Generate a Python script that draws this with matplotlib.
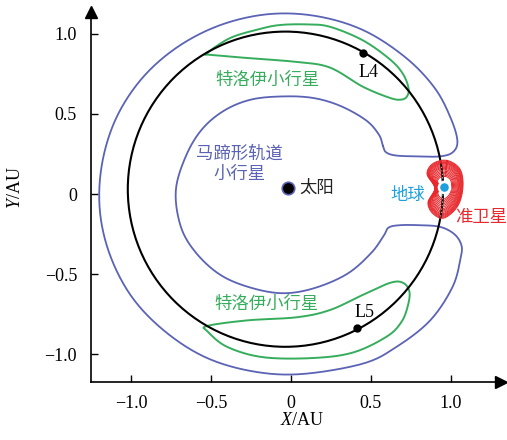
import numpy as np
import matplotlib
matplotlib.use("Agg")
import matplotlib.pyplot as plt

plt.rcParams["font.family"] = ["Liberation Serif", "Noto Sans CJK SC"]
plt.rcParams["mathtext.fontset"] = "custom"
plt.rcParams["mathtext.rm"] = "Liberation Serif"
plt.rcParams["mathtext.it"] = "Liberation Serif:italic"

# ── Data ─────────────────────────────────────────────────────────────────────
sun_xy = (-0.02, 0.036)
earth_xy = (0.958, 0.046)
orbit_center = (-0.035, 0.03)
orbit_radius = 0.985
L4_xy = (0.45, 0.88)
L5_xy = (0.41, -0.84)

# horseshoe outline (closed): inner edge, lower end, outer edge, upper end
horseshoe_x = [0.575, 0.55, 0.47, 0.31, 0.14, -0.05, -0.25, -0.42, -0.56, -0.66,
               -0.72, -0.69, -0.60, -0.45, -0.27, -0.06, 0.14, 0.35, 0.50, 0.58,
               0.61, 0.68, 0.80, 0.93, 1.02, 1.065, 1.06, 1.01, 0.87, 0.66,
               0.45, 0.07, -0.23, -0.525, -0.78, -0.99, -1.13, -1.195, -1.18, -1.09,
               -0.925, -0.70, -0.43, -0.13, 0.17, 0.46, 0.72,
               0.90, 1.00, 1.04, 1.01, 0.93, 0.80, 0.66, 0.595]
horseshoe_y = [0.30, 0.37, 0.46, 0.55, 0.60, 0.61, 0.59, 0.52, 0.40, 0.23,
               0.02, -0.20, -0.36, -0.50, -0.58, -0.62, -0.59, -0.50, -0.37, -0.26,
               -0.21, -0.195, -0.195, -0.205, -0.25, -0.32, -0.40, -0.58, -0.79, -0.955,
               -1.06, -1.125, -1.11, -1.025, -0.865, -0.65, -0.385, -0.10, 0.195, 0.48,
               0.73, 0.925, 1.06, 1.125, 1.11, 1.02, 0.85,
               0.66, 0.47, 0.33, 0.26, 0.235, 0.235, 0.24, 0.26]

# tadpole outlines (closed)
trojan_up_x = [-0.525, -0.38, -0.2, -0.07, 0.1, 0.244, 0.45, 0.62, 0.70, 0.735,
               0.725, 0.69, 0.62, 0.45, 0.244, 0.04, -0.275, -0.5]
trojan_up_y = [0.88, 0.975, 1.03, 1.056, 1.06, 1.045, 0.96, 0.84, 0.75, 0.66,
               0.61, 0.59, 0.60, 0.67, 0.79, 0.825, 0.85, 0.87]
trojan_lo_x = [-0.525, -0.275, 0.04, 0.244, 0.45, 0.62, 0.70, 0.74, 0.73, 0.69,
               0.6, 0.39, 0.14, -0.175, -0.4, -0.52]
trojan_lo_y = [-0.825, -0.79, -0.77, -0.725, -0.63, -0.555, -0.555, -0.61, -0.70, -0.80,
               -0.89, -0.99, -1.025, -1.02, -0.955, -0.86]

# quasi-satellite loop shape (offsets from Earth) and loop sizes
qs_dx = [0.017, 0.098, 0.117, 0.085, 0.0, -0.07, -0.102, -0.06, -0.108, -0.07]
qs_dy = [0.164, 0.11, 0.0, -0.12, -0.196, -0.17, -0.10, -0.01, 0.08, 0.145]
qs_scales = [1.0, 0.97, 0.94, 0.91, 0.88, 0.85, 0.81, 0.77, 0.73, 0.69,
             0.64, 0.59, 0.54, 0.49, 0.44, 0.39]

xticks = [-1.0, -0.5, 0, 0.5, 1.0]
xtick_labels = ["\u22121.0", "\u22120.5", "0", "0.5", "1.0"]
yticks = [-1.0, -0.5, 0, 0.5, 1.0]
ytick_labels = ["\u22121.0", "\u22120.5", "0", "0.5", "1.0"]

BLUE = "#5b63b5"
GREEN = "#36ad5c"
RED = "#e8282c"
EARTH = "#1fa0dc"
CJK = ["Noto Sans CJK SC", "DejaVu Sans"]


def smooth_closed(xs, ys, n=14):
    """Catmull-Rom curve through the read outline points."""
    p = np.column_stack([xs, ys])
    m = len(p)
    t = np.linspace(0, 1, n, endpoint=False)[:, None]
    segs = []
    for i in range(m):
        p0, p1, p2, p3 = p[(i - 1) % m], p[i], p[(i + 1) % m], p[(i + 2) % m]
        segs.append(0.5 * (2 * p1 + (-p0 + p2) * t
                           + (2 * p0 - 5 * p1 + 4 * p2 - p3) * t ** 2
                           + (-p0 + 3 * p1 - 3 * p2 + p3) * t ** 3))
    c = np.vstack(segs)
    c = np.vstack([c, c[:1]])
    return c[:, 0], c[:, 1]


fig = plt.figure(figsize=(5.07, 4.40), dpi=100)
ax = fig.add_axes([91 / 507, 58 / 440, 410 / 507, 370 / 440])
ax.set_xlim(-1.25, 1.3125)
ax.set_ylim(-1.175, 1.1375)

# horseshoe
hx, hy = smooth_closed(horseshoe_x, horseshoe_y)
ax.plot(hx, hy, color=BLUE, lw=1.3, zorder=2)

# tadpoles
for tx, ty in [(trojan_up_x, trojan_up_y), (trojan_lo_x, trojan_lo_y)]:
    sx, sy = smooth_closed(tx, ty)
    ax.plot(sx, sy, color=GREEN, lw=1.4, zorder=3)

# Earth orbit
patch = plt.Circle(orbit_center, orbit_radius, fill=False, color="black", lw=1.5, zorder=4)
ax.add_patch(patch)

# quasi-satellite loops
bx, by = smooth_closed(qs_dx, qs_dy)
for s in qs_scales:
    ax.plot(earth_xy[0] + s * bx, earth_xy[1] + s * by, color=RED, lw=0.7, zorder=5)
ang = np.radians(np.linspace(-10, 9, 40))
ax.plot(orbit_center[0] + orbit_radius * np.cos(ang),
        orbit_center[1] + orbit_radius * np.sin(ang),
        color="black", lw=1.2, zorder=6)
ax.plot(orbit_center[0] + orbit_radius * np.cos(ang),
        orbit_center[1] + orbit_radius * np.sin(ang),
        color="white", lw=0.5, ls=(0, (2, 3)), zorder=6)

# bodies
ax.plot(*earth_xy, "o", ms=8, mfc=EARTH, mec="white", mew=1.8, zorder=7)
ax.plot(*sun_xy, "o", ms=9, mfc="black", mec=BLUE, mew=1.2, zorder=7)
ax.plot(*L4_xy, "o", ms=5, color="black", zorder=7)
ax.plot(*L5_xy, "o", ms=5, color="black", zorder=7)

# labels
txt = dict(fontsize=12.5, family=CJK, fontweight="light")
ax.text(-0.145, 0.71, "特洛伊小行星", color=GREEN, ha="center", va="center", **txt)
ax.text(-0.155, -0.69, "特洛伊小行星", color=GREEN, ha="center", va="center", **txt)
ax.text(-0.32, 0.19, "马蹄形轨道\n小行星", color=BLUE, ha="center", va="center",
        linespacing=1.15, **txt)
ax.text(0.05, 0.036, "太阳", color="#222222", ha="left", va="center", **txt)
ax.text(0.73, -0.005, "地球", color=EARTH, ha="center", va="center", **txt)
ax.text(1.025, -0.145, "准卫星", color=RED, ha="left", va="center", clip_on=False, **txt)
ax.text(0.485, 0.76, "L4", fontsize=13, ha="center", va="center")
ax.text(0.46, -0.74, "L5", fontsize=13, ha="center", va="center")

# axes styling
for side in ["top", "right"]:
    ax.spines[side].set_visible(False)
for side in ["left", "bottom"]:
    ax.spines[side].set_linewidth(1.2)
ax.plot(1, 0, ">", ms=9, color="black", transform=ax.transAxes, clip_on=False)
ax.plot(0, 1, "^", ms=9, color="black", transform=ax.transAxes, clip_on=False)

ax.set_xticks(xticks)
ax.set_xticklabels(xtick_labels)
ax.set_yticks(yticks)
ax.set_yticklabels(ytick_labels)
ax.tick_params(direction="in", length=5, width=1, labelsize=13)
ax.tick_params(axis="x", pad=9)
ax.tick_params(axis="y", pad=10)

fig.text(302 / 507, 20 / 440, "$X$/AU", fontsize=13, ha="center", va="center")
fig.text(15 / 507, 252 / 440, "$Y$/AU", fontsize=13, ha="center", va="center",
         rotation=90)

fig.savefig("out.png", dpi=100)
